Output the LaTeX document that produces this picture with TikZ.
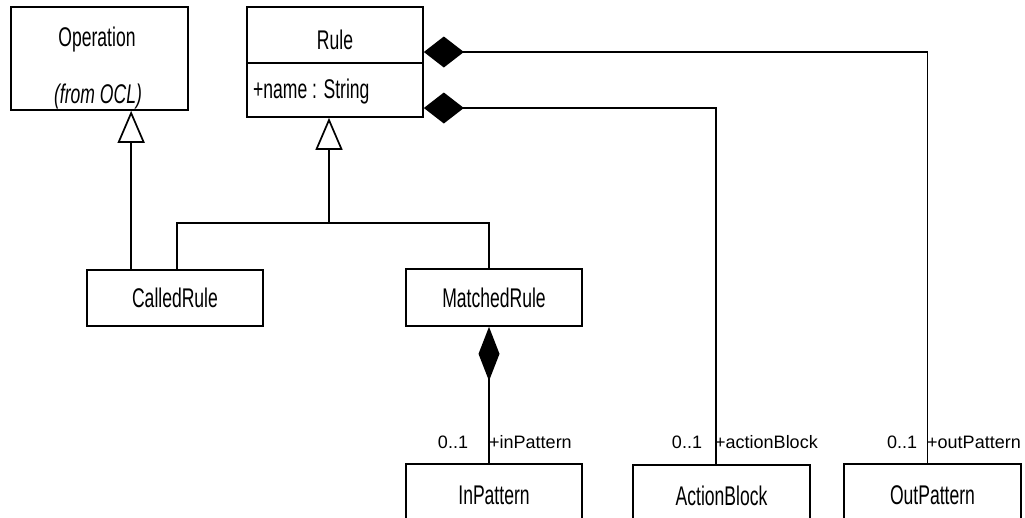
\documentclass[tikz,border=0pt]{standalone}
\usepackage{fontspec}
\usetikzlibrary{arrows.meta}
\newfontfamily\umlfont[FakeStretch=0.65]{Liberation Sans}
\newfontfamily\rolefont{Liberation Sans}
\begin{document}
\begin{tikzpicture}[x=1pt,y=-1pt,
  line/.style={line width=1.7pt,line join=miter},
  classbox/.style={draw,line width=1.7pt,rectangle,inner sep=0pt,
    font=\umlfont\fontsize{27}{30}\selectfont},
  boxtext/.style={inner sep=0pt,font=\umlfont\fontsize{27}{30}\selectfont},
  role/.style={inner sep=0pt,font=\rolefont\fontsize{18}{20}\selectfont},
  gen/.style={line,-{Triangle[open,length=32pt,width=27pt,line width=1.7pt]}},
  comp/.style={line,{Diamond[length=40pt,width=31pt]}-},
  compv/.style={line,{Diamond[length=54pt,width=21pt]}-}]
\clip (0,0) rectangle (1025,517);
\fill[white] (0,0) rectangle (1025,517);

% classes
\node[classbox,minimum width=177pt,minimum height=103pt] (op) at (99.5,58.5) {};
\node[boxtext] (opname) at (97,40) {Operation};
\node[boxtext,font=\umlfont\itshape\fontsize{27}{30}\selectfont] (opfrom) at (98,97) {(from OCL)};

\node[classbox,minimum width=176pt,minimum height=110pt] (rule) at (335,62) {};
\draw[line] ([yshift=-1pt]rule.west) -- ([yshift=-1pt]rule.east);
\node[boxtext] (rulename) at (335,40) {Rule};
\node[boxtext,anchor=west] (ruleattr) at (253,92) {+name : String};

\node[classbox,minimum width=176pt,minimum height=56pt] (called) at (175,298) {CalledRule};
\node[classbox,minimum width=176pt,minimum height=57pt] (matched) at (494,297.5) {MatchedRule};

\node[classbox,minimum width=176pt,minimum height=62pt] (inpat) at (494,495) {InPattern};
\node[classbox,minimum width=177pt,minimum height=62pt] (action) at (721.5,496) {ActionBlock};
\node[classbox,minimum width=177pt,minimum height=62pt] (outpat) at (932.5,495) {OutPattern};

% generalizations
\coordinate (opfoot) at ([xshift=45pt]called.north west);
\draw[gen] (opfoot) -- (opfoot |- op.south);

\coordinate (crtop) at ([xshift=91pt]called.north west);
\coordinate (mrtop) at ([xshift=-5pt]matched.north);
\coordinate (rfoot) at ([xshift=-6pt]rule.south);
\coordinate (treebar) at (329,223);
\draw[line] (crtop) |- (mrtop |- treebar) -- (mrtop);
\draw[gen] (treebar) -- (rfoot);

% compositions
\coordinate (inend) at ([xshift=-5pt]inpat.north);
\draw[compv] ([xshift=-5pt]matched.south) -- (inend);
\coordinate (actend) at ([xshift=-5.5pt]action.north);
\draw[comp] ([yshift=-46pt]rule.east) -| (actend);
\coordinate (outend) at ([xshift=-5pt]outpat.north);
\draw[comp] ([yshift=10pt]rule.east) -| (outend);

% role names and multiplicities
\node[role] (inmult) at (453,442) {0..1};
\node[role,anchor=west] (inrole) at (489,442) {+inPattern};
\node[role] (actmult) at (687,442) {0..1};
\node[role,anchor=west] (actrole) at (715,442) {+actionBlock};
\node[role] (outmult) at (902,442) {0..1};
\node[role,anchor=west] (outrole) at (927,442) {+outPattern};
\end{tikzpicture}
\end{document}
